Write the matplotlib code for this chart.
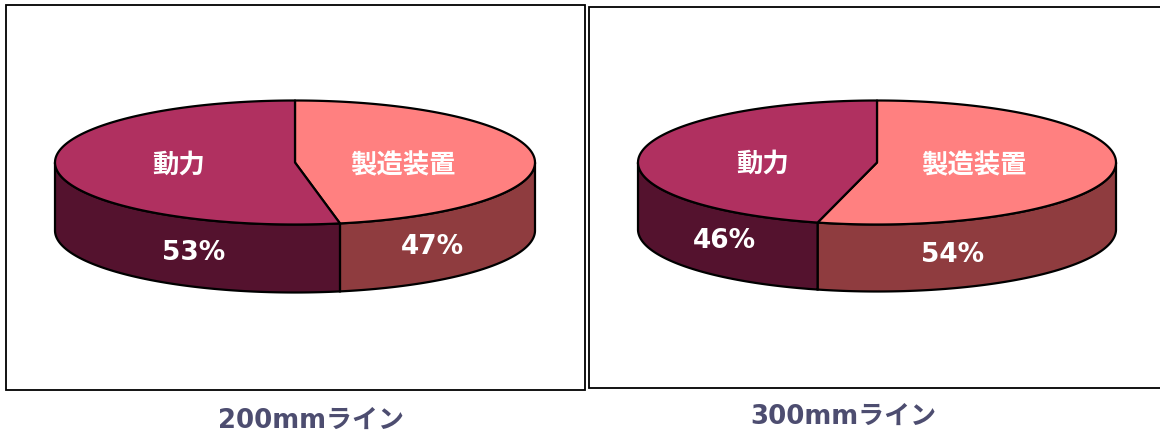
import numpy as np
import matplotlib
matplotlib.use("Agg")
import matplotlib.pyplot as plt
from matplotlib.patches import Polygon, Rectangle

plt.rcParams['font.family'] = ['DejaVu Sans', 'Noto Sans CJK JP']

categories = ["製造装置", "動力"]
shares_200 = [47, 53]
shares_300 = [54, 46]
line_names = ["200mmライン", "300mmライン"]

top_colors = ["#ff8080", "#b03060"]
side_colors = ["#8f3c3f", "#54122e"]
title_color = "#4d4d70"

W, H = 1160, 438

fig = plt.figure(figsize=(W / 100, H / 100), dpi=100)
ax = fig.add_axes([0, 0, 1, 1])
ax.set_xlim(0, W)
ax.set_ylim(H, 0)
ax.axis("off")


def rim(cx, cy, rx, ry, a0, a1, dy=0.0):
    # angles are clockwise from 12 o'clock, in degrees
    t = np.radians(np.linspace(a0, a1, 200))
    return np.column_stack([cx + rx * np.sin(t), cy - ry * np.cos(t) + dy])


def pie3d(shares, cx, cy, rx, ry, depth):
    split = shares[0] / sum(shares) * 360
    spans = [(0, split), (split, 360)]

    # side wall first: only the front half of the rim (90..270) is visible
    for (a0, a1), c in zip(spans, side_colors):
        lo, hi = max(a0, 90), min(a1, 270)
        upper = rim(cx, cy, rx, ry, lo, hi)
        lower = rim(cx, cy, rx, ry, lo, hi, depth)[::-1]
        ax.add_patch(Polygon(np.vstack([upper, lower]), closed=True, fc=c, ec="black", lw=1.6, zorder=2))

    for (a0, a1), c in zip(spans, top_colors):
        pts = np.vstack([[cx, cy], rim(cx, cy, rx, ry, a0, a1)])
        ax.add_patch(Polygon(pts, closed=True, fc=c, ec="black", lw=1.6, joinstyle="round", zorder=3))


def frame(x0, y0, x1, y1):
    ax.add_patch(Rectangle((x0, y0), x1 - x0, y1 - y0, fc="white", ec="black", lw=1.3, zorder=1))


frame(5.5, 4.5, 585, 389.5)
frame(588.5, 6.5, 1162, 388)

pie3d(shares_200, 295, 162.5, 240, 62, 68)
pie3d(shares_300, 877, 162.5, 239, 62, 67)

lab = dict(color="white", ha="center", va="center", zorder=5, fontweight="bold")
ax.text(179, 166, categories[1], fontsize=19, **lab)
ax.text(403, 166, categories[0], fontsize=19, **lab)
ax.text(763, 165, categories[1], fontsize=19, **lab)
ax.text(974, 166, categories[0], fontsize=19, **lab)

ax.text(194, 253, f"{shares_200[1]}%", fontsize=19, **lab)
ax.text(432, 247, f"{shares_200[0]}%", fontsize=19, **lab)
ax.text(724, 241, f"{shares_300[1]}%", fontsize=19, **lab)
ax.text(953, 255, f"{shares_300[0]}%", fontsize=19, **lab)

ax.text(311, 421, line_names[0], fontsize=18.7, fontweight="bold", color=title_color, ha="center", va="center")
ax.text(843, 417, line_names[1], fontsize=18.7, fontweight="bold", color=title_color, ha="center", va="center")

fig.savefig("out.png", dpi=100)
